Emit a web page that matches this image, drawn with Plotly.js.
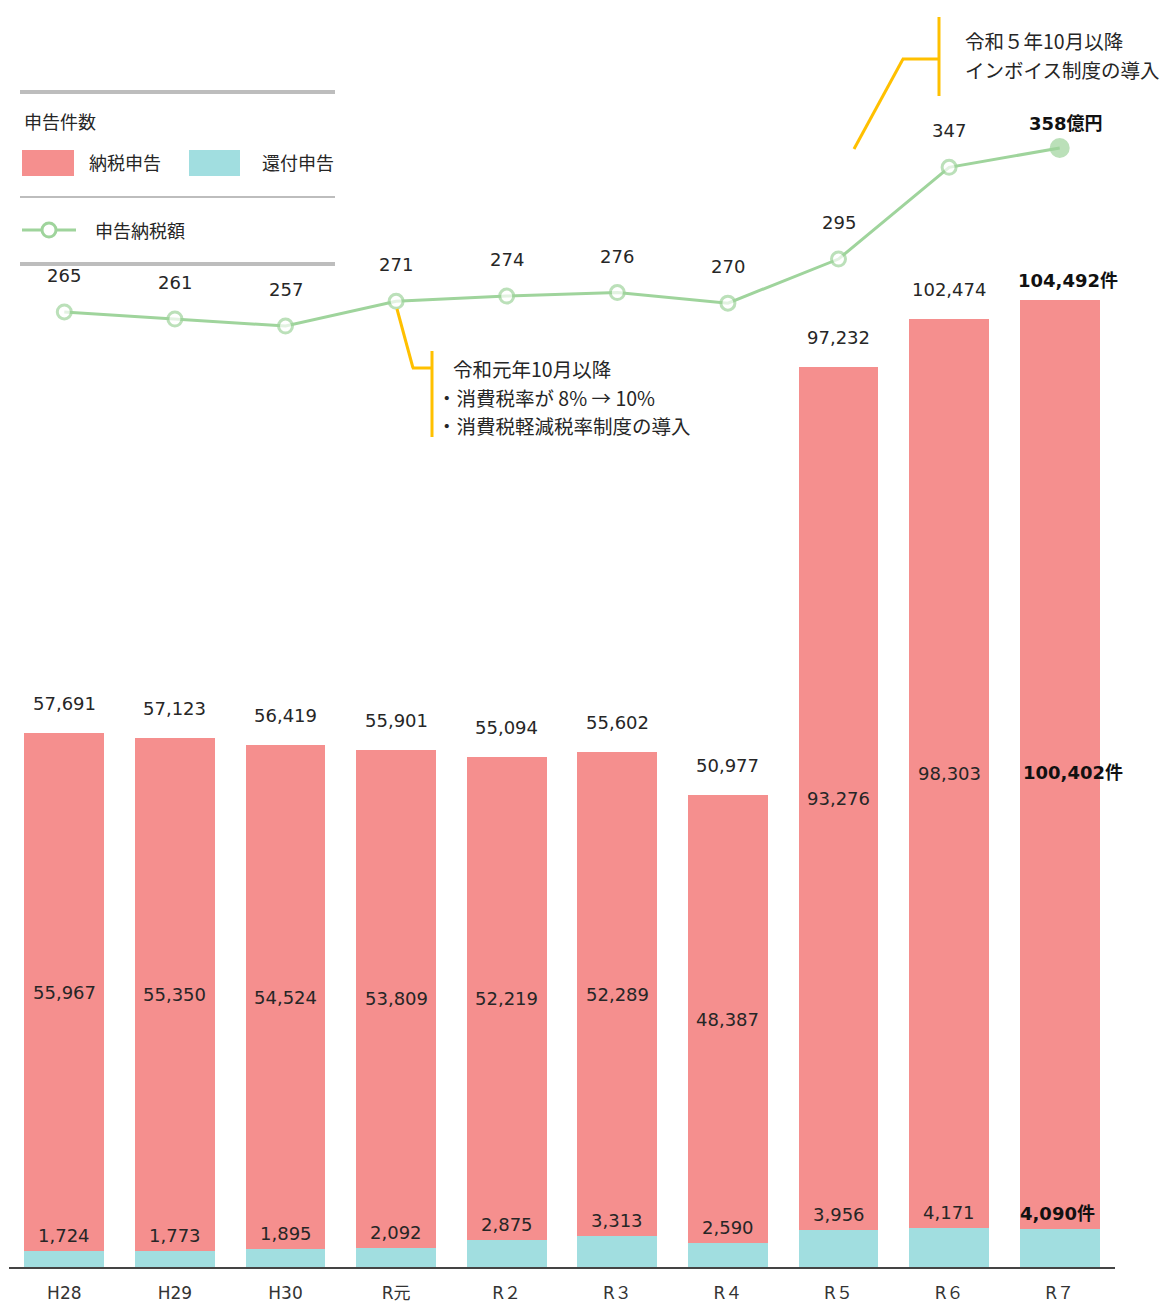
<!DOCTYPE html>
<html>
<head>
<meta charset="utf-8">
<script src="https://cdn.plot.ly/plotly-3.0.1.min.js"></script>
<style>html,body{margin:0;padding:0;background:#fff;}</style>
</head>
<body>
<div id="chart" style="width:1167px;height:1304px;"></div>
<script>
// ---- data ----
const categories = ["H28","H29","H30","R元","R２","R３","R４","R５","R６","R７"];
const payment = [55967,55350,54524,53809,52219,52289,48387,93276,98303,100402]; // 納税申告
const refund  = [1724,1773,1895,2092,2875,3313,2590,3956,4171,4090];          // 還付申告
const total   = [57691,57123,56419,55901,55094,55602,50977,97232,102474,104492];
const taxAmount = [265,261,257,271,274,276,270,295,347,358];                   // 申告納税額（億円）

// ---- styles ----
const PINK = '#F58F8E', TEAL = '#A1DEE0', GREEN = '#9FD49C', YELLOW = '#FFC000', GREY = '#BDBDBD';
const NUM_FONT = 'DejaVu Sans, Noto Sans CJK JP, sans-serif';
const JP_FONT = 'Noto Sans CJK JP, sans-serif';
const TXT = '#262626';
const last = categories.length - 1;
const fmt = v => v.toLocaleString('en-US');

// plot-area geometry (pixels) for paper-coordinate decorations
const L = 9, W = 1106, T = 0, H = 1267;
const px = x => (x - L) / W;
const py = y => 1 - (y - T) / H;

const traces = [
  {type:'bar', x:categories, y:refund, name:'還付申告', marker:{color:TEAL}, hoverinfo:'skip'},
  {type:'bar', x:categories, y:payment, name:'納税申告', marker:{color:PINK}, hoverinfo:'skip'},
  {type:'scatter', mode:'lines+markers', x:categories, y:taxAmount, yaxis:'y2', name:'申告納税額',
   line:{color:GREEN, width:3},
   marker:{
     size: categories.map((c,i)=> i===last ? 17 : 14),
     color: categories.map((c,i)=> i===last ? GREEN : '#ffffff'),
     line:{color:GREEN, width:3}
   },
   cliponaxis:false, hoverinfo:'skip'}
];

const NS = 18; // number label font size
const ann = [];
categories.forEach((c,i)=>{
  const isLast = i===last;
  const f = {family:NUM_FONT, size: NS, color: isLast ? '#111' : TXT};
  // total above bar
  ann.push({x:c, y:total[i], xref:'x', yref:'y', yanchor:'bottom', showarrow:false,
    yshift: isLast ? 7 : 17, xshift: isLast ? 8 : 0,
    text: isLast ? '<b>'+fmt(total[i])+'件</b>' : fmt(total[i]), font:f});
  // payment segment middle
  ann.push({x:c, y:refund[i] + payment[i]/2, xref:'x', yref:'y', yanchor:'middle', showarrow:false,
    yshift: isLast ? -8 : 0, xshift: isLast ? 13 : 0,
    text: isLast ? '<b>'+fmt(payment[i])+'件</b>' : fmt(payment[i]), font:f});
  // refund label just above teal segment
  ann.push({x:c, y:refund[i], xref:'x', yref:'y', yanchor:'bottom', showarrow:false,
    yshift: 3, xshift: isLast ? -2 : 0,
    text: isLast ? '<b>'+fmt(refund[i])+'件</b>' : fmt(refund[i]), font:f});
  // tax amount
  ann.push({x:c, y:taxAmount[i], xref:'x', yref:'y2', yanchor:'bottom', showarrow:false,
    yshift: isLast ? 12 : 24, xshift: isLast ? 6 : 0,
    text: isLast ? '<b>'+taxAmount[i]+'億円</b>' : String(taxAmount[i]), font:f});
});

// legend texts
const legendText = (x, y, t) => ({xref:'paper', yref:'paper', x:px(x), y:py(y), xanchor:'left', yanchor:'middle',
  showarrow:false, text:t, font:{family:JP_FONT, size:18, color:TXT}});
ann.push(legendText(22, 121, '申告件数'));
ann.push(legendText(87, 162, '納税申告'));
ann.push(legendText(260, 162, '還付申告'));
ann.push(legendText(93, 230, '申告納税額'));

// note texts
const noteText = (x, y, t) => ({xref:'paper', yref:'paper', x:px(x), y:py(y), xanchor:'left', yanchor:'middle',
  showarrow:false, text:t, font:{family:JP_FONT, size:19.5, color:TXT}});
ann.push(noteText(451, 368, '令和元年10月以降'));
ann.push(noteText(435, 397, '・消費税率が 8% → 10%'));
ann.push(noteText(435, 425, '・消費税軽減税率制度の導入'));
ann.push(noteText(963, 41, '令和５年10月以降'));
ann.push(noteText(963, 70, 'インボイス制度の導入'));

const pline = (x0,y0,x1,y1,color,width) => ({type:'line', xref:'paper', yref:'paper',
  x0:px(x0), y0:py(y0), x1:px(x1), y1:py(y1), line:{color, width}, layer:'above'});
const shapes = [
  // legend frame lines
  pline(20, 92, 335, 92, GREY, 4),
  pline(20, 197, 335, 197, GREY, 2),
  pline(20, 264, 335, 264, GREY, 4),
  // legend swatches
  {type:'rect', xref:'paper', yref:'paper', x0:px(22), x1:px(74), y0:py(150), y1:py(176), fillcolor:PINK, line:{width:0}},
  {type:'rect', xref:'paper', yref:'paper', x0:px(189), x1:px(240), y0:py(150), y1:py(176), fillcolor:TEAL, line:{width:0}},
  pline(22, 230, 76, 230, GREEN, 3),
  {type:'circle', xref:'paper', yref:'paper', xsizemode:'pixel', ysizemode:'pixel',
   xanchor:px(49), yanchor:py(230), x0:-7, x1:7, y0:-7, y1:7, fillcolor:'#ffffff', line:{color:GREEN, width:3}},
  // bracket 1 (令和元年)
  pline(397, 309, 413, 368, YELLOW, 3),
  pline(412, 368, 432, 368, YELLOW, 3),
  pline(432, 351, 432, 437, YELLOW, 3),
  // bracket 2 (令和5年)
  pline(854, 149, 903, 59, YELLOW, 3),
  pline(902, 59, 939, 59, YELLOW, 3),
  pline(939, 17, 939, 96, YELLOW, 3)
];

const layout = {
  width:1167, height:1304,
  margin:{l:L, r:1167-L-W, t:T, b:1304-T-H},
  paper_bgcolor:'#ffffff', plot_bgcolor:'#ffffff',
  barmode:'stack', bargap:0.277,
  showlegend:false,
  xaxis:{type:'category', range:[-0.5, categories.length-0.5], showline:true, linecolor:'#444', linewidth:2,
         ticks:'', showgrid:false, zeroline:false, ticklabelstandoff:10,
         tickfont:{family:NUM_FONT, size:17, color:'#333'}, fixedrange:true},
  yaxis:{range:[0, 136884], visible:false, showgrid:false, zeroline:false, fixedrange:true},
  yaxis2:{overlaying:'y', range:[-276.6, 441.9], visible:false, showgrid:false, zeroline:false, fixedrange:true},
  annotations:ann,
  shapes:shapes
};

Plotly.newPlot('chart', traces, layout, {displayModeBar:false, staticPlot:true});
</script>
</body>
</html>
